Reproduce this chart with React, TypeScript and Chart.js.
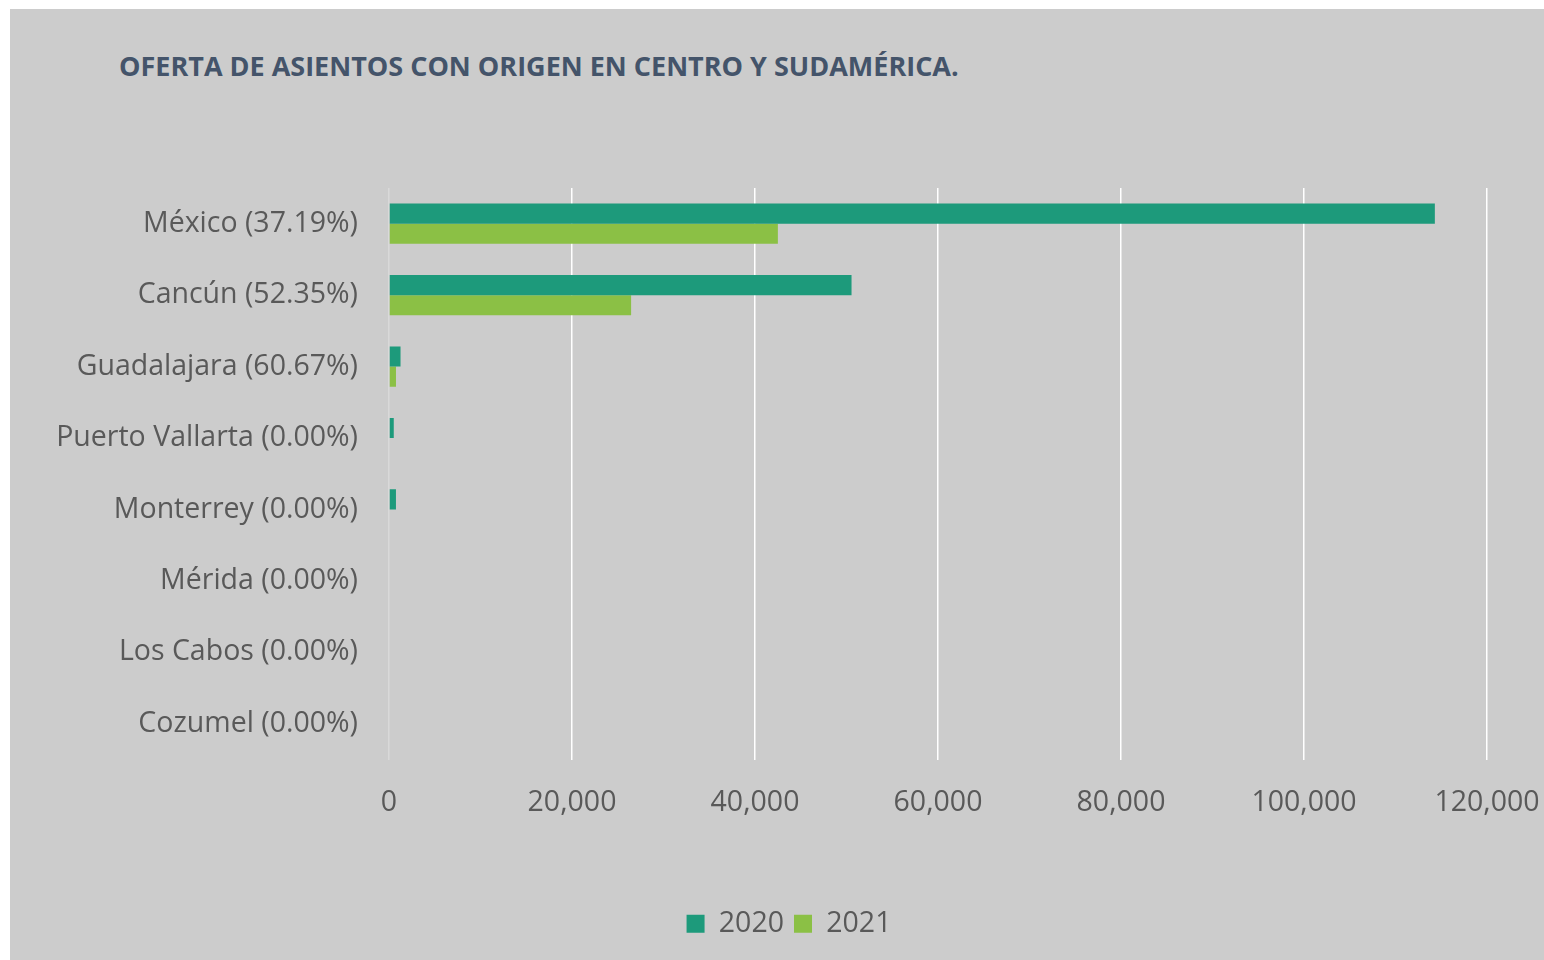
import React, { useEffect, useRef } from "react";
import { Chart, registerables } from "chart.js";

Chart.register(...registerables);

const categories = [
  "México (37.19%)",
  "Cancún (52.35%)",
  "Guadalajara (60.67%)",
  "Puerto Vallarta (0.00%)",
  "Monterrey (0.00%)",
  "Mérida (0.00%)",
  "Los Cabos (0.00%)",
  "Cozumel (0.00%)",
];
const values2020 = [114300, 50550, 1260, 520, 760, 0, 0, 0];
const values2021 = [42500, 26460, 764, 0, 0, 0, 0, 0];
const seriesLabels = ["2020", "2021"];
const titleText = "OFERTA DE ASIENTOS CON ORIGEN EN CENTRO Y SUDAMÉRICA.";

const FONT = "'Open Sans', sans-serif";
const TEXT = "#595959";
const SIZE = 28.5;

export default function App() {
  const ref = useRef<HTMLCanvasElement | null>(null);
  useEffect(() => {
    if (!ref.current) return;
    const chart = new Chart(ref.current, {
      type: "bar",
      data: {
        labels: categories,
        datasets: [
          {
            label: seriesLabels[0],
            data: values2020,
            backgroundColor: "#1d9a7b",
            borderWidth: 0,
            categoryPercentage: 0.5634,
            barPercentage: 1,
          },
          {
            label: seriesLabels[1],
            data: values2021,
            backgroundColor: "#8bc045",
            borderWidth: 0,
            categoryPercentage: 0.5634,
            barPercentage: 1,
          },
        ],
      },
      options: {
        indexAxis: "y",
        animation: false,
        responsive: false,
        maintainAspectRatio: false,
        layout: { padding: { top: 179, right: 0, bottom: 12, left: 24 } },
        plugins: {
          title: { display: false },
          tooltip: { enabled: false },
          legend: {
            position: "bottom",
            labels: {
              boxWidth: 18,
              boxHeight: 18,
              padding: 10,
              color: TEXT,
              font: { family: FONT, size: SIZE },
            },
          },
        },
        scales: {
          x: {
            min: 0,
            max: 120000,
            afterFit: (s: any) => {
              s.height = 140;
              s.paddingLeft = 0;
              s.paddingRight = 57;
            },
            ticks: {
              stepSize: 20000,
              color: TEXT,
              padding: 26,
              font: { family: FONT, size: SIZE },
              callback: (v: any) => Number(v).toLocaleString("en-US"),
            },
            grid: {
              drawTicks: false,
              lineWidth: 1.5,
              color: (ctx: any) => (ctx.tick && ctx.tick.value === 0 ? "#d9d9d9" : "#ffffff"),
            },
            border: { display: false },
          },
          y: {
            afterFit: (s: any) => {
              s.width = 355;
              s.paddingTop = 0;
              s.paddingBottom = 0;
            },
            ticks: {
              color: TEXT,
              padding: 31,
              font: { family: FONT, size: SIZE },
            },
            grid: { display: false, drawTicks: false },
            border: { display: false },
          },
        },
      },
    });
    return () => chart.destroy();
  }, []);

  return (
    <div
      style={{
        position: "absolute",
        left: 10,
        top: 9,
        width: 1534,
        height: 951,
        background: "#cccccc",
      }}
    >
      <div
        style={{
          position: "absolute",
          left: 109,
          top: 38,
          fontFamily: FONT,
          fontWeight: 700,
          fontSize: 27,
          color: "#44546a",
          whiteSpace: "nowrap",
          lineHeight: "38px",
        }}
      >
        {titleText}
      </div>
      <canvas ref={ref} width={1534} height={951} style={{ position: "absolute", left: 0, top: 0 }} />
    </div>
  );
}
